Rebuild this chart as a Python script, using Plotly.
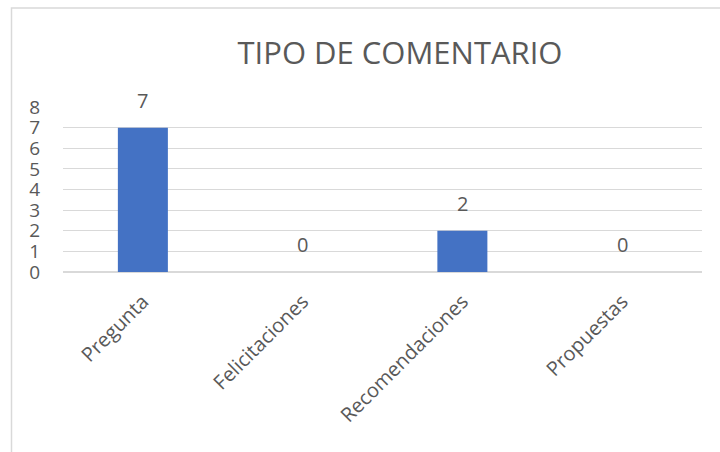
import plotly.graph_objects as go

categories = ["Pregunta", "Felicitaciones", "Recomendaciones", "Propuestas"]
counts = [7, 0, 2, 0]
y_ticks = [0, 1, 2, 3, 4, 5, 6, 7, 8]

W, H = 720, 452
L, R, T, B = 63, 18, 107, 180
plot_w = W - L - R
plot_h = H - T - B

text_col = "#595959"
font = "Open Sans"

fig = go.Figure()
fig.add_trace(go.Bar(
    x=categories,
    y=counts,
    marker=dict(color="#4472C4", line=dict(width=0)),
    width=0.313,
    hoverinfo="x+y",
))

# value labels above each bar
for c, v in zip(categories, counts):
    fig.add_annotation(
        x=c, y=v, text=str(v), showarrow=False,
        xref="x", yref="y", yanchor="bottom", yshift=12,
        font=dict(family=font, size=20, color=text_col),
    )

# outer chart frame
def px_to_paper_x(px):
    return (px - L) / plot_w

def px_to_paper_y(py):
    return (H - B - py) / plot_h

fig.add_shape(
    type="rect", xref="paper", yref="paper",
    x0=px_to_paper_x(11.5), x1=px_to_paper_x(730),
    y0=px_to_paper_y(470), y1=px_to_paper_y(8),
    line=dict(color="#D9D9D9", width=1.5), fillcolor="rgba(0,0,0,0)",
    layer="below",
)

fig.update_layout(
    width=W, height=H,
    margin=dict(l=L, r=R, t=T, b=B),
    paper_bgcolor="white", plot_bgcolor="white",
    showlegend=False,
    title=dict(
        text="TIPO DE COMENTARIO",
        x=400 / W, xanchor="center",
        y=1 - 53 / H, yanchor="middle", yref="container",
        font=dict(family=font, size=31, color=text_col),
    ),
    xaxis=dict(
        type="category",
        tickangle=-45,
        tickfont=dict(family=font, size=20, color=text_col),
        showgrid=False, zeroline=False, showline=False,
        ticks="", ticklabelstandoff=13,
    ),
    yaxis=dict(
        range=[0, 8],
        tickvals=y_ticks,
        tickfont=dict(family=font, size=19, color=text_col),
        showgrid=True, gridcolor="#D9D9D9", gridwidth=1,
        zeroline=True, zerolinecolor="#D9D9D9", zerolinewidth=1.5,
        showline=False, ticks="", ticklabelstandoff=22,
    ),
)

fig.write_html("out.html")
